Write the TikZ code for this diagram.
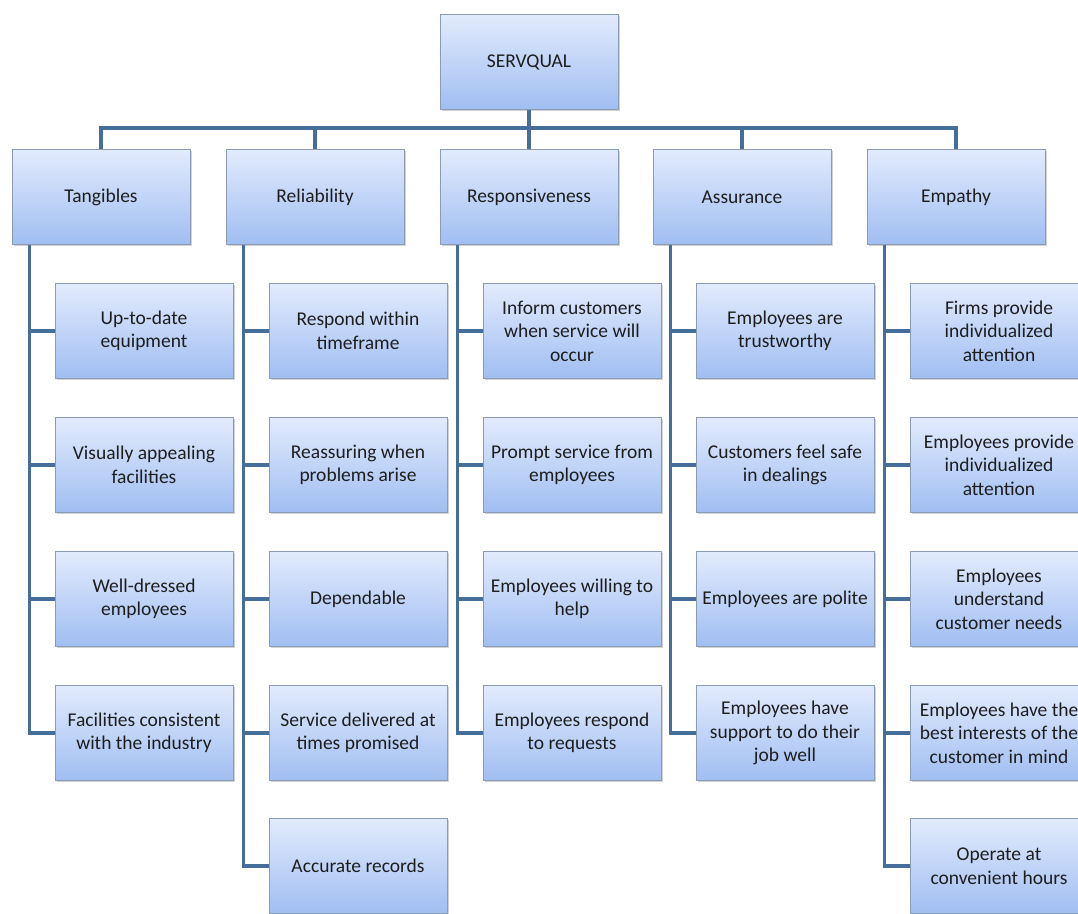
\documentclass[tikz,border=0pt]{standalone}
\usepackage{fontspec}
\setmainfont{Carlito}
\usetikzlibrary{shadows}
\definecolor{linec}{RGB}{70,110,155}
\definecolor{boxdraw}{RGB}{140,155,180}
\definecolor{boxtop}{RGB}{226,235,253}
\definecolor{boxbot}{RGB}{160,190,242}
\definecolor{txt}{RGB}{30,30,30}
\tikzset{
  x=1pt, y=-1pt,
  qbox/.style={draw=boxdraw, line width=0.8pt, top color=boxtop, bottom color=boxbot,
    minimum width=178pt, minimum height=95pt, inner sep=2pt, align=center,
    text=txt, font=\fontsize{19.5}{23.5}\selectfont,
    drop shadow={shadow xshift=1.5pt, shadow yshift=-1.5pt, opacity=0.35, fill=gray}},
  conn/.style={draw=linec, line width=3.6pt}
}
\begin{document}
\begin{tikzpicture}
\useasboundingbox (0,0) rectangle (1078,913);
\clip (0,0) rectangle (1078,913);
\fill[white] (0,0) rectangle (1078,913);
% root
\node[qbox] (root) at (529,62) {SERVQUAL};
% level 1
\node[qbox] (tang) at (101,197) {Tangibles};
\node[qbox] (reli) at (315,197) {Reliability};
\node[qbox] (resp) at (529,197) {Responsiveness};
\node[qbox] (assu) at (742,197) {Assurance};
\node[qbox] (empa) at (956,197) {Empathy};
% Tangibles children
\node[qbox] (t1) at (144,331) {Up-to-date\\equipment};
\node[qbox] (t2) at (144,465) {Visually appealing\\facilities};
\node[qbox] (t3) at (144,599) {Well-dressed\\employees};
\node[qbox] (t4) at (144,733) {Facilities consistent\\with the industry};
% Reliability children
\node[qbox] (r1) at (358,331) {Respond within\\timeframe};
\node[qbox] (r2) at (358,465) {Reassuring when\\problems arise};
\node[qbox] (r3) at (358,599) {Dependable};
\node[qbox] (r4) at (358,733) {Service delivered at\\times promised};
\node[qbox] (r5) at (358,866) {Accurate records};
% Responsiveness children
\node[qbox] (p1) at (572,331) {Inform customers\\when service will\\occur};
\node[qbox] (p2) at (572,465) {Prompt service from\\employees};
\node[qbox] (p3) at (572,599) {Employees willing to\\help};
\node[qbox] (p4) at (572,733) {Employees respond\\to requests};
% Assurance children
\node[qbox] (a1) at (785,331) {Employees are\\trustworthy};
\node[qbox] (a2) at (785,465) {Customers feel safe\\in dealings};
\node[qbox] (a3) at (785,599) {Employees are polite};
\node[qbox] (a4) at (785,733) {Employees have\\support to do their\\job well};
% Empathy children
\node[qbox] (e1) at (999,331) {Firms provide\\individualized\\attention};
\node[qbox] (e2) at (999,465) {Employees provide\\individualized\\attention};
\node[qbox] (e3) at (999,599) {Employees\\understand\\customer needs};
\node[qbox] (e4) at (999,733) {Employees have the\\best interests of the\\customer in mind};
\node[qbox] (e5) at (999,866) {Operate at\\convenient hours};
% bus
\coordinate (bus) at (529,128);
\draw[conn] (root.south) -- (bus);
\draw[conn] (bus) -| (tang.north);
\draw[conn] (bus) -| (reli.north);
\draw[conn] (bus) -- (resp.north);
\draw[conn] (bus) -| (assu.north);
\draw[conn] (bus) -| (empa.north);
% column spines
\coordinate (tx) at ([xshift=18pt]tang.south west);
\coordinate (rx) at ([xshift=18pt]reli.south west);
\coordinate (px) at ([xshift=18pt]resp.south west);
\coordinate (ax) at ([xshift=18pt]assu.south west);
\coordinate (ex) at ([xshift=18pt]empa.south west);
\draw[conn] (tx) |- (t4.west);
\foreach \c in {t1,t2,t3} \draw[conn] (\c.west) -- (\c.west -| tx);
\draw[conn] (rx) |- (r5.west);
\foreach \c in {r1,r2,r3,r4} \draw[conn] (\c.west) -- (\c.west -| rx);
\draw[conn] (px) |- (p4.west);
\foreach \c in {p1,p2,p3} \draw[conn] (\c.west) -- (\c.west -| px);
\draw[conn] (ax) |- (a4.west);
\foreach \c in {a1,a2,a3} \draw[conn] (\c.west) -- (\c.west -| ax);
\draw[conn] (ex) |- (e5.west);
\foreach \c in {e1,e2,e3,e4} \draw[conn] (\c.west) -- (\c.west -| ex);
\end{tikzpicture}
\end{document}
